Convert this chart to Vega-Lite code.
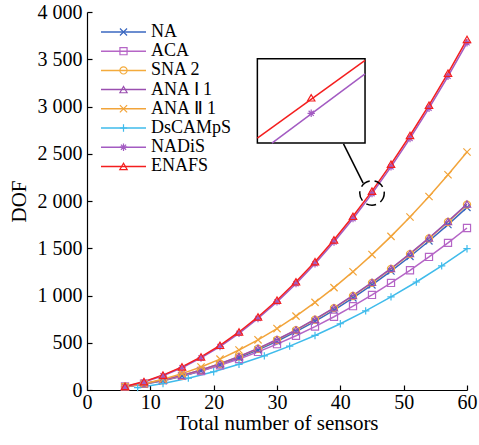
{
  "$schema": "https://vega.github.io/schema/vega-lite/v6.json",
  "width": 380,
  "height": 378,
  "autosize": {"type": "none"},
  "padding": {"left": 87, "top": 12, "right": 12, "bottom": 55},
  "background": "white",
  "config": {
    "view": {"stroke": null},
    "font": "Liberation Serif",
    "axis": {
      "grid": false,
      "domainColor": "black",
      "domainWidth": 1.2,
      "tickColor": "black",
      "tickWidth": 1.2,
      "tickSize": -5,
      "labelColor": "black",
      "labelFont": "Liberation Serif",
      "labelFontSize": 20,
      "labelFlush": false,
      "labelOverlap": false,
      "titleColor": "black",
      "titleFont": "Liberation Serif",
      "titleFontSize": 21,
      "titleFontWeight": "normal"
    }
  },
  "datasets": {
    "dof": [
      {"s": "NA", "n": 6, "v": 31}, {"s": "NA", "n": 9, "v": 60}, {"s": "NA", "n": 12, "v": 98}, {"s": "NA", "n": 15, "v": 146}, {"s": "NA", "n": 18, "v": 202}, {"s": "NA", "n": 21, "v": 267}, {"s": "NA", "n": 24, "v": 341}, {"s": "NA", "n": 27, "v": 424}, {"s": "NA", "n": 30, "v": 516}, {"s": "NA", "n": 33, "v": 617}, {"s": "NA", "n": 36, "v": 727}, {"s": "NA", "n": 39, "v": 846}, {"s": "NA", "n": 42, "v": 974}, {"s": "NA", "n": 45, "v": 1112}, {"s": "NA", "n": 48, "v": 1258}, {"s": "NA", "n": 51, "v": 1413}, {"s": "NA", "n": 54, "v": 1577}, {"s": "NA", "n": 57, "v": 1750}, {"s": "NA", "n": 60, "v": 1932},
      {"s": "ACA", "n": 6, "v": 37}, {"s": "ACA", "n": 9, "v": 67}, {"s": "ACA", "n": 12, "v": 104}, {"s": "ACA", "n": 15, "v": 149}, {"s": "ACA", "n": 18, "v": 201}, {"s": "ACA", "n": 21, "v": 261}, {"s": "ACA", "n": 24, "v": 328}, {"s": "ACA", "n": 27, "v": 403}, {"s": "ACA", "n": 30, "v": 485}, {"s": "ACA", "n": 33, "v": 574}, {"s": "ACA", "n": 36, "v": 671}, {"s": "ACA", "n": 39, "v": 775}, {"s": "ACA", "n": 42, "v": 887}, {"s": "ACA", "n": 45, "v": 1006}, {"s": "ACA", "n": 48, "v": 1133}, {"s": "ACA", "n": 51, "v": 1267}, {"s": "ACA", "n": 54, "v": 1408}, {"s": "ACA", "n": 57, "v": 1557}, {"s": "ACA", "n": 60, "v": 1714},
      {"s": "SNA 2", "n": 6, "v": 34}, {"s": "SNA 2", "n": 9, "v": 65}, {"s": "SNA 2", "n": 12, "v": 104}, {"s": "SNA 2", "n": 15, "v": 153}, {"s": "SNA 2", "n": 18, "v": 211}, {"s": "SNA 2", "n": 21, "v": 277}, {"s": "SNA 2", "n": 24, "v": 353}, {"s": "SNA 2", "n": 27, "v": 437}, {"s": "SNA 2", "n": 30, "v": 531}, {"s": "SNA 2", "n": 33, "v": 634}, {"s": "SNA 2", "n": 36, "v": 745}, {"s": "SNA 2", "n": 39, "v": 866}, {"s": "SNA 2", "n": 42, "v": 995}, {"s": "SNA 2", "n": 45, "v": 1134}, {"s": "SNA 2", "n": 48, "v": 1282}, {"s": "SNA 2", "n": 51, "v": 1438}, {"s": "SNA 2", "n": 54, "v": 1604}, {"s": "SNA 2", "n": 57, "v": 1778}, {"s": "SNA 2", "n": 60, "v": 1962},
      {"s": "ANA Ⅰ 1", "n": 6, "v": 35}, {"s": "ANA Ⅰ 1", "n": 9, "v": 66}, {"s": "ANA Ⅰ 1", "n": 12, "v": 106}, {"s": "ANA Ⅰ 1", "n": 15, "v": 155}, {"s": "ANA Ⅰ 1", "n": 18, "v": 212}, {"s": "ANA Ⅰ 1", "n": 21, "v": 279}, {"s": "ANA Ⅰ 1", "n": 24, "v": 355}, {"s": "ANA Ⅰ 1", "n": 27, "v": 440}, {"s": "ANA Ⅰ 1", "n": 30, "v": 534}, {"s": "ANA Ⅰ 1", "n": 33, "v": 637}, {"s": "ANA Ⅰ 1", "n": 36, "v": 749}, {"s": "ANA Ⅰ 1", "n": 39, "v": 870}, {"s": "ANA Ⅰ 1", "n": 42, "v": 1000}, {"s": "ANA Ⅰ 1", "n": 45, "v": 1139}, {"s": "ANA Ⅰ 1", "n": 48, "v": 1286}, {"s": "ANA Ⅰ 1", "n": 51, "v": 1443}, {"s": "ANA Ⅰ 1", "n": 54, "v": 1609}, {"s": "ANA Ⅰ 1", "n": 57, "v": 1784}, {"s": "ANA Ⅰ 1", "n": 60, "v": 1968},
      {"s": "ANA Ⅱ 1", "n": 6, "v": 33}, {"s": "ANA Ⅱ 1", "n": 9, "v": 67}, {"s": "ANA Ⅱ 1", "n": 12, "v": 114}, {"s": "ANA Ⅱ 1", "n": 15, "v": 173}, {"s": "ANA Ⅱ 1", "n": 18, "v": 244}, {"s": "ANA Ⅱ 1", "n": 21, "v": 327}, {"s": "ANA Ⅱ 1", "n": 24, "v": 423}, {"s": "ANA Ⅱ 1", "n": 27, "v": 531}, {"s": "ANA Ⅱ 1", "n": 30, "v": 650}, {"s": "ANA Ⅱ 1", "n": 33, "v": 782}, {"s": "ANA Ⅱ 1", "n": 36, "v": 927}, {"s": "ANA Ⅱ 1", "n": 39, "v": 1083}, {"s": "ANA Ⅱ 1", "n": 42, "v": 1252}, {"s": "ANA Ⅱ 1", "n": 45, "v": 1433}, {"s": "ANA Ⅱ 1", "n": 48, "v": 1626}, {"s": "ANA Ⅱ 1", "n": 51, "v": 1831}, {"s": "ANA Ⅱ 1", "n": 54, "v": 2048}, {"s": "ANA Ⅱ 1", "n": 57, "v": 2278}, {"s": "ANA Ⅱ 1", "n": 60, "v": 2519},
      {"s": "DsCAMpS", "n": 8, "v": 25}, {"s": "DsCAMpS", "n": 12, "v": 69}, {"s": "DsCAMpS", "n": 16, "v": 125}, {"s": "DsCAMpS", "n": 20, "v": 193}, {"s": "DsCAMpS", "n": 24, "v": 272}, {"s": "DsCAMpS", "n": 28, "v": 362}, {"s": "DsCAMpS", "n": 32, "v": 464}, {"s": "DsCAMpS", "n": 36, "v": 577}, {"s": "DsCAMpS", "n": 40, "v": 701}, {"s": "DsCAMpS", "n": 44, "v": 837}, {"s": "DsCAMpS", "n": 48, "v": 985}, {"s": "DsCAMpS", "n": 52, "v": 1143}, {"s": "DsCAMpS", "n": 56, "v": 1314}, {"s": "DsCAMpS", "n": 60, "v": 1495},
      {"s": "NADiS", "n": 6, "v": 34}, {"s": "NADiS", "n": 9, "v": 84}, {"s": "NADiS", "n": 12, "v": 151}, {"s": "NADiS", "n": 15, "v": 236}, {"s": "NADiS", "n": 18, "v": 339}, {"s": "NADiS", "n": 21, "v": 460}, {"s": "NADiS", "n": 24, "v": 600}, {"s": "NADiS", "n": 27, "v": 757}, {"s": "NADiS", "n": 30, "v": 932}, {"s": "NADiS", "n": 33, "v": 1125}, {"s": "NADiS", "n": 36, "v": 1336}, {"s": "NADiS", "n": 39, "v": 1566}, {"s": "NADiS", "n": 42, "v": 1813}, {"s": "NADiS", "n": 45, "v": 2078}, {"s": "NADiS", "n": 48, "v": 2361}, {"s": "NADiS", "n": 51, "v": 2662}, {"s": "NADiS", "n": 54, "v": 2982}, {"s": "NADiS", "n": 57, "v": 3319}, {"s": "NADiS", "n": 60, "v": 3674},
      {"s": "ENAFS", "n": 6, "v": 38}, {"s": "ENAFS", "n": 9, "v": 89}, {"s": "ENAFS", "n": 12, "v": 158}, {"s": "ENAFS", "n": 15, "v": 245}, {"s": "ENAFS", "n": 18, "v": 350}, {"s": "ENAFS", "n": 21, "v": 473}, {"s": "ENAFS", "n": 24, "v": 614}, {"s": "ENAFS", "n": 27, "v": 773}, {"s": "ENAFS", "n": 30, "v": 950}, {"s": "ENAFS", "n": 33, "v": 1145}, {"s": "ENAFS", "n": 36, "v": 1358}, {"s": "ENAFS", "n": 39, "v": 1589}, {"s": "ENAFS", "n": 42, "v": 1838}, {"s": "ENAFS", "n": 45, "v": 2105}, {"s": "ENAFS", "n": 48, "v": 2390}, {"s": "ENAFS", "n": 51, "v": 2693}, {"s": "ENAFS", "n": 54, "v": 3014}, {"s": "ENAFS", "n": 57, "v": 3353}, {"s": "ENAFS", "n": 60, "v": 3710}
    ],
    "zoomLines": [
      {"s": "ENAFS", "n": 26.9, "v": 2666}, {"s": "ENAFS", "n": 43.9, "v": 3487},
      {"s": "NADiS", "n": 29.2, "v": 2613}, {"s": "NADiS", "n": 43.9, "v": 3345}
    ],
    "zoomMarks": [
      {"s": "ENAFS", "n": 35.4, "v": 3092},
      {"s": "NADiS", "n": 35.4, "v": 2928}
    ],
    "zoomBox": [{"n": 26.9, "n2": 43.9, "v": 2613, "v2": 3505}],
    "focus": [{"n": 45, "v": 2085}],
    "leader": [{"n": 40.5, "v": 2605, "n2": 43.6, "v2": 2190}]
  },
  "encoding": {
    "x": {
      "field": "n", "type": "quantitative",
      "scale": {"domain": [0, 60], "nice": false},
      "axis": {"title": "Total number of sensors", "values": [0, 10, 20, 30, 40, 50, 60], "labelPadding": 7, "titlePadding": 0}
    },
    "y": {
      "field": "v", "type": "quantitative",
      "scale": {"domain": [0, 4000], "nice": false},
      "axis": {"title": "DOF", "values": [0, 500, 1000, 1500, 2000, 2500, 3000, 3500, 4000], "labelPadding": 10, "titlePadding": 8, "labelExpr": "replace(format(datum.value, ','), ',', ' ')"}
    }
  },
  "layer": [
    {
      "data": {"name": "dof"},
      "mark": {"type": "line", "strokeWidth": 1.5},
      "encoding": {
        "detail": {"field": "s"},
        "stroke": {
          "field": "s", "type": "nominal",
          "sort": ["NA", "ACA", "SNA 2", "ANA Ⅰ 1", "ANA Ⅱ 1", "DsCAMpS", "NADiS", "ENAFS"],
          "scale": {
            "range": ["#3a67c0", "#b565c6", "#f4ab3c", "#9a4fb0", "#f2a43a", "#3fbbeb", "#a35bc2", "#f41e1e"]
          },
          "legend": {
            "orient": "none", "legendX": 27.5, "legendY": 11, "title": null, "padding": 0,
            "symbolType": "M-5,0H5", "symbolSize": 81, "symbolStrokeWidth": 1.5,
            "labelFont": "Liberation Serif", "labelFontSize": 18, "labelColor": "black",
            "labelOffset": 18.5, "rowPadding": 1.2
          }
        }
      }
    },
    {
      "data": {"name": "dof"},
      "mark": {"type": "point", "filled": false, "strokeWidth": 1.2, "opacity": 1},
      "encoding": {
        "color": {
          "field": "s", "type": "nominal",
          "scale": {
            "domain": ["NA", "ACA", "SNA 2", "ANA Ⅰ 1", "ANA Ⅱ 1", "DsCAMpS", "NADiS", "ENAFS"],
            "range": ["#3a67c0", "#b565c6", "#f4ab3c", "#9a4fb0", "#f2a43a", "#3fbbeb", "#a35bc2", "#f41e1e"]
          },
          "legend": {
            "orient": "none", "legendX": 27.5, "legendY": 11, "title": null, "padding": 0,
            "symbolSize": 81, "symbolStrokeWidth": 1.2,
            "labelFont": "Liberation Serif", "labelFontSize": 18, "labelExpr": "''",
            "labelOffset": 18.5, "rowPadding": 1.2
          }
        },
        "shape": {
          "field": "s", "type": "nominal",
          "scale": {
            "domain": ["NA", "ACA", "SNA 2", "ANA Ⅰ 1", "ANA Ⅱ 1", "DsCAMpS", "NADiS", "ENAFS"],
            "range": ["M-1,-1L1,1M-1,1L1,-1", "square", "circle", "triangle-up", "M-1,-1L1,1M-1,1L1,-1", "M-1,0H1M0,-1V1", "M-1,0H1M0,-1V1M-0.7,-0.7L0.7,0.7M-0.7,0.7L0.7,-0.7", "triangle-up"]
          },
          "legend": {
            "orient": "none", "legendX": 27.5, "legendY": 11, "title": null, "padding": 0,
            "symbolSize": 81, "symbolStrokeWidth": 1.2,
            "labelFont": "Liberation Serif", "labelFontSize": 18, "labelExpr": "''",
            "labelOffset": 18.5, "rowPadding": 1.2
          }
        },
        "size": {
          "field": "s", "type": "nominal", "legend": null,
          "scale": {
            "domain": ["NA", "ACA", "SNA 2", "ANA Ⅰ 1", "ANA Ⅱ 1", "DsCAMpS", "NADiS", "ENAFS"],
            "range": [50, 55, 90, 90, 50, 81, 55, 100]
          }
        }
      }
    },
    {
      "data": {"name": "zoomBox"},
      "mark": {"type": "rect", "fill": "white", "stroke": "black", "strokeWidth": 1.5},
      "encoding": {"x2": {"field": "n2"}, "y2": {"field": "v2"}}
    },
    {
      "data": {"name": "zoomLines"},
      "mark": {"type": "line", "strokeWidth": 1.5},
      "encoding": {"detail": {"field": "s"}, "stroke": {"field": "s", "type": "nominal", "sort": ["NA", "ACA", "SNA 2", "ANA Ⅰ 1", "ANA Ⅱ 1", "DsCAMpS", "NADiS", "ENAFS"]}}
    },
    {
      "data": {"name": "zoomMarks"},
      "mark": {"type": "point", "filled": false, "strokeWidth": 1.2, "opacity": 1},
      "encoding": {
        "color": {"field": "s", "type": "nominal"},
        "shape": {"field": "s", "type": "nominal"},
        "size": {"field": "s", "type": "nominal", "legend": null}
      }
    },
    {
      "data": {"name": "focus"},
      "mark": {"type": "point", "shape": "circle", "size": 600, "filled": false, "stroke": "black", "strokeWidth": 1.5, "strokeDash": [10, 5], "opacity": 1},
      "encoding": {}
    },
    {
      "data": {"name": "leader"},
      "mark": {"type": "rule", "stroke": "black", "strokeWidth": 1.5},
      "encoding": {"x2": {"field": "n2"}, "y2": {"field": "v2"}}
    }
  ]
}
